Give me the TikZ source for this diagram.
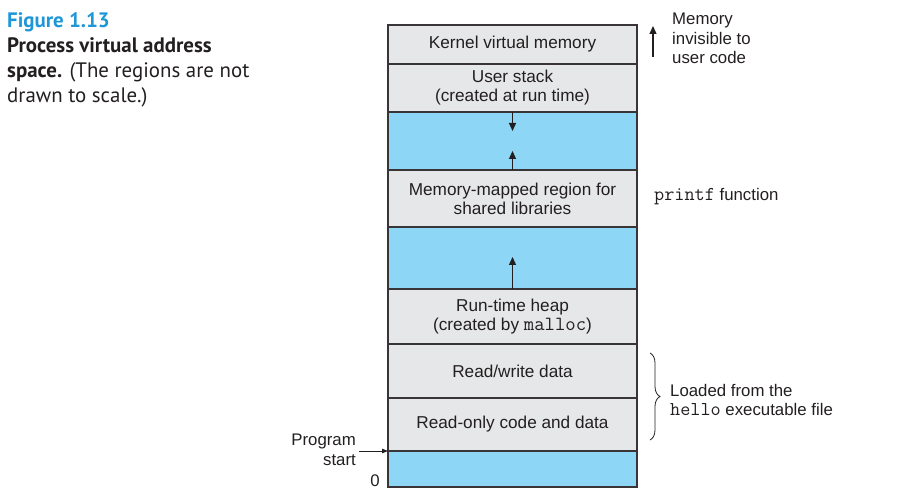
\documentclass[tikz,border=0pt]{standalone}
\usepackage{fontspec}
\setmainfont{Liberation Sans}
\setmonofont[Scale=1.17]{Latin Modern Mono}
\newfontfamily\capfont{PT Sans}
\usetikzlibrary{arrows.meta,decorations.pathreplacing}
\definecolor{regblue}{RGB}{141,214,245}
\definecolor{reggray}{RGB}{230,231,232}
\definecolor{capblue}{RGB}{30,150,215}
\definecolor{ink}{RGB}{35,31,32}
\begin{document}
\begin{tikzpicture}[x=1pt,y=-1pt,
  region/.style={draw=ink!90, line width=1.4pt, minimum width=249pt, inner sep=0pt, outer sep=0pt, align=center, text=ink,
    font=\fontsize{17.2}{19}\selectfont},
  grayreg/.style={region, fill=reggray},
  bluereg/.style={region, fill=regblue},
  lbl/.style={text=ink, inner sep=0pt, font=\fontsize{16.8}{19.5}\selectfont, align=left},
  arr/.style={line width=1.2pt, draw=ink, -{Triangle[length=8pt,width=7pt]}},
  captxt/.style={inner sep=0pt, align=left, font=\capfont\fontsize{20.9}{25}\selectfont, text=ink}
]
\useasboundingbox (0,0) rectangle (917,502);
% caption
\node[captxt, anchor=north west] (cap) at (7,12) {\textcolor{capblue}{\bfseries Figure 1.13}\\ \textbf{Process virtual address}\\ \textbf{space.} (The regions are not\\ drawn to scale.)};
% regions
\node[grayreg, minimum height=39pt] (kernel) at (512.5,44.5) {Kernel virtual memory};
\node[grayreg, minimum height=48pt] (stack) at (512.5,88) {User stack\\(created at run time)};
\node[bluereg, minimum height=58pt] (blue1) at (512.5,141) {};
\node[grayreg, minimum height=57pt] (mmap) at (512.5,198.5) {Memory-mapped region for\\shared libraries};
\node[bluereg, minimum height=62pt] (blue2) at (512.5,258) {};
\node[grayreg, minimum height=55pt] (heap) at (512.5,317) {Run-time heap\\(created by \texttt{malloc})};
\node[grayreg, minimum height=54pt] (rw) at (512.5,371) {Read/write data};
\node[grayreg, minimum height=53pt] (ro) at (512.5,424.5) {Read-only code and data};
\node[bluereg, minimum height=36pt] (blue3) at (512.5,469) {};
% growth arrows
\coordinate (stackend) at (512.5,131);
\coordinate (mmapend) at (512.5,151);
\coordinate (heapend) at (512.5,257);
\draw[arr] (blue1.north) -- (stackend);
\draw[arr] (blue1.south) -- (mmapend);
\draw[arr] (blue2.south) -- (heapend);
% right annotations
\coordinate (invlo) at (653,57);
\coordinate (invhi) at (653,26);
\draw[arr] (invlo) -- (invhi);
\node[lbl, anchor=north west] (inv) at (672,13) {Memory\\invisible to\\user code};
\node[lbl, anchor=west] (printf) at (654,197) {\texttt{printf} function};
\coordinate (brtop) at (650,353);
\coordinate (brbot) at (650,440);
\draw[line width=0.8pt, draw=ink, decorate, decoration={brace, amplitude=10pt}] (brtop) -- (brbot);
\node[lbl, anchor=west] (loaded) at (670,400) {Loaded from the\\\texttt{hello} executable file};
% left annotations
\node[lbl, anchor=east, align=right] (pstart) at (356,450) {Program\\start};
\draw[line width=0.8pt, draw=ink, -{Triangle[length=6pt,width=4.5pt]}] (pstart.east) ++(3,1) -- (ro.south west);
\node[lbl, anchor=center] (zero) at (375,481) {0};
\end{tikzpicture}
\end{document}
